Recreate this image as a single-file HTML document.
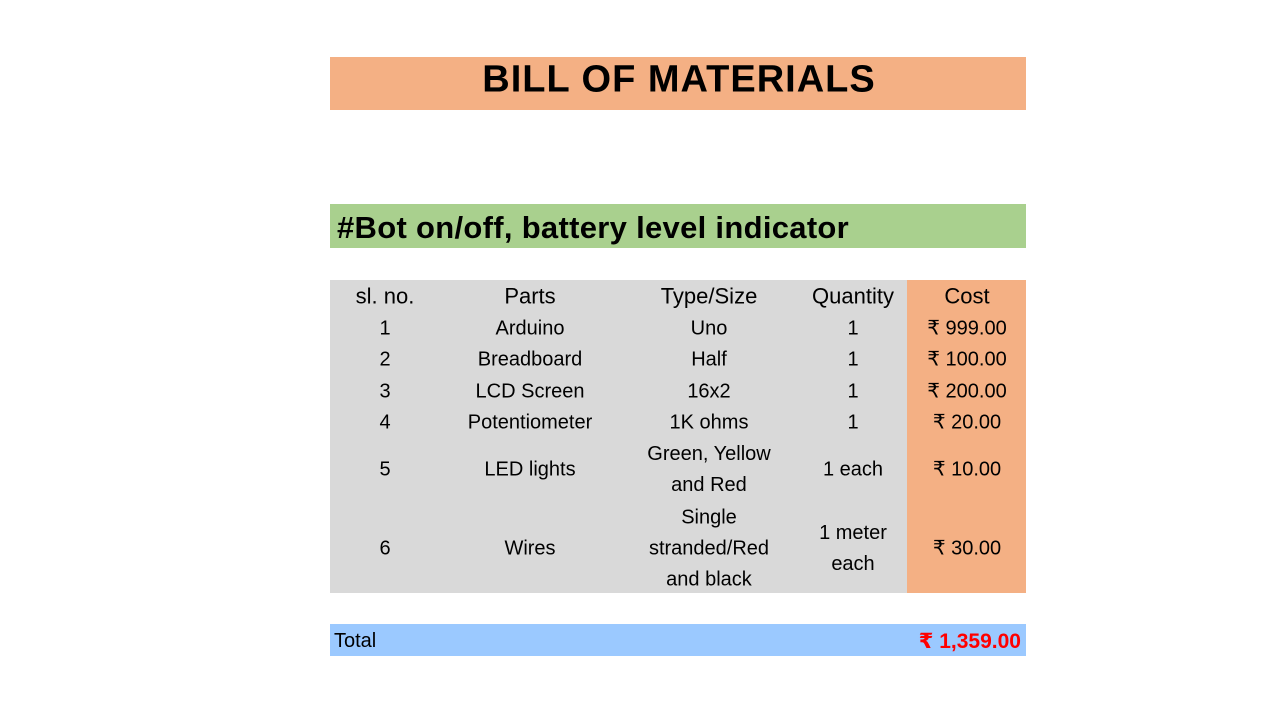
<!DOCTYPE html>
<html><head><meta charset="utf-8"><style>
body{margin:0;width:1267px;height:713px;background:#fff;position:relative;overflow:hidden;font-family:"Liberation Sans","DejaVu Sans",sans-serif;}
.a{position:absolute;}
.t{position:absolute;transform:translate(-50%,-50%);white-space:nowrap;font-size:20px;color:#000;text-align:center;line-height:31px;margin-top:2px}
.h{font-size:22px;margin-top:0}
</style></head><body>
<div class="a" style="left:330px;top:57px;width:696px;height:53px;background:#F4B084"></div>
<div class="t" style="left:679px;top:78px;font-size:38px;font-weight:bold;letter-spacing:1px">BILL OF MATERIALS</div>
<div class="a" style="left:330px;top:204px;width:696px;height:44px;background:#A9D08E"></div>
<div class="a" style="left:337px;top:208px;font-size:31px;line-height:40px;font-weight:bold;letter-spacing:0.3px">#Bot on/off, battery level indicator</div>
<div class="a" style="left:330px;top:280px;width:577px;height:313px;background:#D9D9D9"></div>
<div class="a" style="left:907px;top:280px;width:119px;height:313px;background:#F4B084"></div>
<div class="t h" style="left:385px;top:296px">sl. no.</div>
<div class="t h" style="left:530px;top:296px">Parts</div>
<div class="t h" style="left:709px;top:296px">Type/Size</div>
<div class="t h" style="left:853px;top:296px">Quantity</div>
<div class="t h" style="left:967px;top:296px">Cost</div>

<div class="t" style="left:385px;top:327px">1</div>
<div class="t" style="left:530px;top:327px">Arduino</div>
<div class="t" style="left:709px;top:327px">Uno</div>
<div class="t" style="left:853px;top:327px">1</div>
<div class="t" style="left:967px;top:327px">₹ 999.00</div>

<div class="t" style="left:385px;top:358px">2</div>
<div class="t" style="left:530px;top:358px">Breadboard</div>
<div class="t" style="left:709px;top:358px">Half</div>
<div class="t" style="left:853px;top:358px">1</div>
<div class="t" style="left:967px;top:358px">₹ 100.00</div>

<div class="t" style="left:385px;top:390px">3</div>
<div class="t" style="left:530px;top:390px">LCD Screen</div>
<div class="t" style="left:709px;top:390px">16x2</div>
<div class="t" style="left:853px;top:390px">1</div>
<div class="t" style="left:967px;top:390px">₹ 200.00</div>

<div class="t" style="left:385px;top:421px">4</div>
<div class="t" style="left:530px;top:421px">Potentiometer</div>
<div class="t" style="left:709px;top:421px">1K ohms</div>
<div class="t" style="left:853px;top:421px">1</div>
<div class="t" style="left:967px;top:421px">₹ 20.00</div>

<div class="t" style="left:385px;top:468px">5</div>
<div class="t" style="left:530px;top:468px">LED lights</div>
<div class="t" style="left:709px;top:468px">Green, Yellow<br>and Red</div>
<div class="t" style="left:853px;top:468px">1 each</div>
<div class="t" style="left:967px;top:468px">₹ 10.00</div>

<div class="t" style="left:385px;top:547px">6</div>
<div class="t" style="left:530px;top:547px">Wires</div>
<div class="t" style="left:709px;top:547px">Single<br>stranded/Red<br>and black</div>
<div class="t" style="left:853px;top:547px">1 meter<br>each</div>
<div class="t" style="left:967px;top:547px">₹ 30.00</div>

<div class="a" style="left:330px;top:624px;width:696px;height:32px;background:#9BC9FF"></div>
<div class="a" style="left:334px;top:626px;font-size:20px;line-height:31px">Total</div>
<div class="a" style="right:246px;top:626px;font-size:21px;line-height:31px;font-weight:bold;color:#FF0000">₹ 1,359.00</div>
</body></html>
